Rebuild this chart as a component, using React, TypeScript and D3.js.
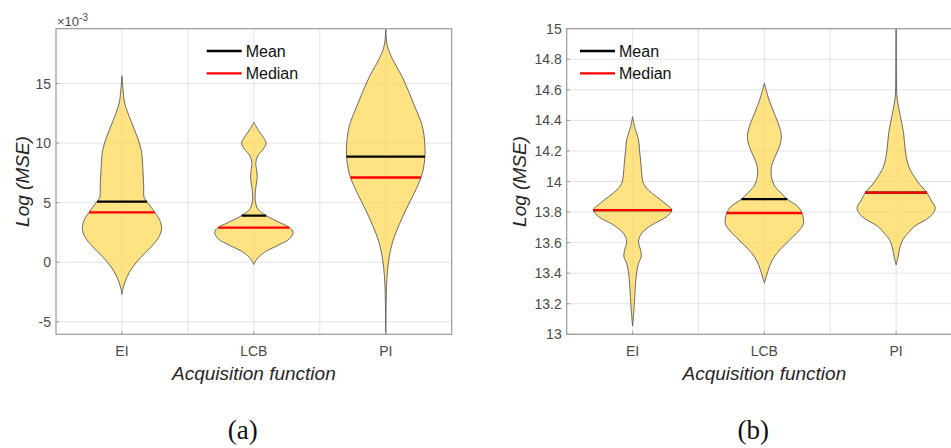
import React from "react";
import * as d3 from "d3";

const categories = ["EI", "LCB", "PI"];
const xTickValues = [1, 2, 3];
const xGridValues = [1, 1.5, 2, 2.5, 3];

const yTicksA = [-5, 0, 5, 10, 15];
const yTicksB = [13, 13.2, 13.4, 13.6, 13.8, 14, 14.2, 14.4, 14.6, 14.8, 15];

// density profiles: [value, relative half-width]
const densityA_EI: [number, number][] = [
  [15.65, 0], [14.39, 0.03], [13.28, 0.075], [11.88, 0.225], [10.48, 0.39], [9.36, 0.49],
  [7.69, 0.53], [6.29, 0.55], [5.45, 0.56], [5.09, 0.63], [4.61, 0.74], [4.19, 0.83],
  [3.5, 0.96], [2.8, 1.0], [2.1, 0.93], [1.26, 0.73], [0.42, 0.48], [-0.42, 0.27],
  [-1.26, 0.125], [-2.1, 0.035], [-2.7, 0],
];
const densityA_LCB: [number, number][] = [
  [11.74, 0], [11.04, 0.12], [10.48, 0.24], [10.0, 0.31], [9.5, 0.24], [8.94, 0.1],
  [8.38, 0.05], [7.7, 0.07], [7.12, 0.085], [6.5, 0.06], [6.01, 0.04], [5.17, 0.035],
  [4.47, 0.1], [3.91, 0.31], [3.35, 0.64], [2.91, 0.9], [2.51, 0.99], [1.96, 0.9],
  [1.4, 0.6], [0.84, 0.27], [0.28, 0.08], [-0.19, 0],
];
const densityA_PI: [number, number][] = [
  [19.6, 0], [18.16, 0.04], [17.05, 0.17], [15.65, 0.4], [14.25, 0.59], [12.86, 0.76],
  [11.46, 0.92], [10.06, 0.985], [8.86, 0.99], [7.83, 0.95], [7.1, 0.89], [5.87, 0.73],
  [4.47, 0.52], [3.08, 0.33], [1.68, 0.17], [0.28, 0.08], [-1.11, 0.035], [-2.51, 0.015],
  [-6.05, 0],
];

const densityB_EI: [number, number][] = [
  [14.424, 0], [14.359, 0.05], [14.272, 0.15], [14.206, 0.175], [14.119, 0.21],
  [14.054, 0.23], [13.988, 0.275], [13.944, 0.4], [13.9, 0.61], [13.857, 0.82],
  [13.813, 0.99], [13.77, 0.86], [13.715, 0.48], [13.661, 0.23], [13.606, 0.15],
  [13.552, 0.2], [13.508, 0.22], [13.465, 0.15], [13.4, 0.1], [13.312, 0.07],
  [13.18, 0.04], [13.054, 0],
];
const densityB_LCB: [number, number][] = [
  [14.643, 0], [14.533, 0.12], [14.446, 0.25], [14.359, 0.38], [14.293, 0.43],
  [14.228, 0.38], [14.162, 0.27], [14.097, 0.18], [14.031, 0.18], [13.966, 0.27],
  [13.923, 0.43], [13.884, 0.58], [13.835, 0.85], [13.794, 0.95], [13.726, 0.99],
  [13.683, 0.89], [13.617, 0.64], [13.552, 0.39], [13.486, 0.2], [13.421, 0.1],
  [13.334, 0],
];
const densityB_PI: [number, number][] = [
  [15.0, 0], [14.7, 0.008], [14.545, 0.025], [14.424, 0.11], [14.315, 0.19],
  [14.206, 0.23], [14.097, 0.32], [14.031, 0.46], [13.977, 0.61], [13.927, 0.78],
  [13.879, 0.88], [13.825, 0.99], [13.77, 0.86], [13.704, 0.45], [13.661, 0.3],
  [13.62, 0.17], [13.573, 0.1], [13.508, 0.05], [13.454, 0],
];

const meansA = [5.09, 3.91, 8.86];
const mediansA = [4.18, 2.91, 7.11];
const meansB = [13.8133, 13.884, 13.927];
const mediansB = [13.813, 13.794, 13.927];

const densitiesA = [densityA_EI, densityA_LCB, densityA_PI];
const densitiesB = [densityB_EI, densityB_LCB, densityB_PI];

const FONT = "'Liberation Sans', Arial, Helvetica, sans-serif";
const FILL = "rgb(255,214,76)";

function widthAt(dens: [number, number][], v: number) {
  const s = [...dens].sort((a, b) => a[0] - b[0]);
  for (let i = 0; i < s.length - 1; i++) {
    if (v >= s[i][0] && v <= s[i + 1][0]) {
      const t = (v - s[i][0]) / (s[i + 1][0] - s[i][0]);
      return s[i][1] + t * (s[i + 1][1] - s[i][1]);
    }
  }
  return 0;
}

type PanelProps = {
  id: string;
  left: number;
  right: number;
  top: number;
  bottom: number;
  yDomain: [number, number];
  yTicks: number[];
  tickFmt: (v: number) => string;
  densities: [number, number][][];
  means: number[];
  medians: number[];
  legendX: number;
  exponent: boolean;
  ylabelX: number;
  panelLabel: string;
};

function Panel(p: PanelProps) {
  const x = d3.scaleLinear().domain([0.5, 3.5]).range([p.left, p.right]);
  const y = d3.scaleLinear().domain(p.yDomain).range([p.bottom, p.top]);
  const maxHalf = 0.3; // in category units
  const unit = x(1) - x(0);
  const clipId = "clip-" + p.id;
  const tickColor = "#4a4a4a";
  const gridColor = "#e3e3e3";
  const axisColor = "#9a9a9a";
  const cx = (p.left + p.right) / 2;
  const cy = (p.top + p.bottom) / 2;

  return (
    <g>
      <defs>
        <clipPath id={clipId}>
          <rect x={p.left} y={p.top} width={p.right - p.left} height={p.bottom - p.top} />
        </clipPath>
      </defs>
      <rect x={p.left} y={p.top} width={p.right - p.left} height={p.bottom - p.top} fill="#fff" />
      <g>
        {xGridValues.map((v) => (
          <line key={"gx" + v} x1={x(v)} x2={x(v)} y1={p.top} y2={p.bottom} stroke={gridColor} strokeWidth={1} />
        ))}
        {p.yTicks.map((v) => (
          <line key={"gy" + v} x1={p.left} x2={p.right} y1={y(v)} y2={y(v)} stroke={gridColor} strokeWidth={1} />
        ))}
      </g>
      <g clipPath={`url(#${clipId})`}>
        {p.densities.map((dens, i) => {
          const c = i + 1;
          const area = d3
            .area<[number, number]>()
            .y((d) => y(d[0]))
            .x0((d) => x(c) - d[1] * maxHalf * unit)
            .x1((d) => x(c) + d[1] * maxHalf * unit)
            .curve(d3.curveCatmullRom.alpha(0.5));
          const wMean = widthAt(dens, p.means[i]) * maxHalf * unit;
          const wMed = widthAt(dens, p.medians[i]) * maxHalf * unit;
          return (
            <g key={"v" + i}>
              <path d={area(dens) || ""} fill={FILL} fillOpacity={0.7} stroke="#5a5a5a" strokeWidth={0.9} />
              <line x1={x(c) - wMean} x2={x(c) + wMean} y1={y(p.means[i])} y2={y(p.means[i])} stroke="#000" strokeWidth={2.3} />
              <line x1={x(c) - wMed} x2={x(c) + wMed} y1={y(p.medians[i])} y2={y(p.medians[i])} stroke="#ff0000" strokeWidth={2.3} />
            </g>
          );
        })}
      </g>
      <rect x={p.left} y={p.top} width={p.right - p.left} height={p.bottom - p.top} fill="none" stroke={axisColor} strokeWidth={1.2} />
      {p.yTicks.map((v) => (
        <g key={"ty" + v}>
          <line x1={p.left} x2={p.left + 3} y1={y(v)} y2={y(v)} stroke={axisColor} />
          <text x={p.left - 5} y={y(v)} dy="0.36em" textAnchor="end" fontFamily={FONT} fontSize={14} fill={tickColor}>
            {p.tickFmt(v)}
          </text>
        </g>
      ))}
      {xTickValues.map((v, i) => (
        <g key={"tx" + v}>
          <line x1={x(v)} x2={x(v)} y1={p.bottom} y2={p.bottom - 3} stroke={axisColor} />
          <text x={x(v)} y={p.bottom + 16.5} dy="0.36em" textAnchor="middle" fontFamily={FONT} fontSize={14} fill={tickColor}>
            {categories[i]}
          </text>
        </g>
      ))}
      {p.exponent && (
        <text x={p.left + 1} y={25.5} fontFamily={FONT} fontSize={13} fill={tickColor}>
          ×10<tspan dy={-5} fontSize={10}>-3</tspan>
        </text>
      )}
      <g>
        <line x1={p.legendX} x2={p.legendX + 35} y1={51} y2={51} stroke="#000" strokeWidth={2.3} />
        <text x={p.legendX + 39} y={51} dy="0.36em" fontFamily={FONT} fontSize={16} fill="#111">Mean</text>
        <line x1={p.legendX} x2={p.legendX + 35} y1={73.3} y2={73.3} stroke="#ff0000" strokeWidth={2.3} />
        <text x={p.legendX + 39} y={73.3} dy="0.36em" fontFamily={FONT} fontSize={16} fill="#111">Median</text>
      </g>
      <text x={cx} y={373.5} dy="0.35em" textAnchor="middle" fontFamily={FONT} fontStyle="italic" fontSize={19} fill="#262626">
        Acquisition function
      </text>
      <text
        transform={`translate(${p.ylabelX},${cy}) rotate(-90)`}
        dy="0.35em"
        textAnchor="middle"
        fontFamily={FONT}
        fontStyle="italic"
        fontSize={19}
        fill="#262626"
      >
        Log (MSE)
      </text>
      <text x={cx - 11} y={439} textAnchor="middle" fontFamily="'Liberation Serif', 'Times New Roman', serif" fontSize={27} fill="#111">
        {p.panelLabel}
      </text>
    </g>
  );
}

export default function App() {
  return (
    <div style={{ position: "absolute", left: 0, top: 0, width: 951, height: 448, overflow: "hidden", background: "#fff" }}>
      <svg width={951} height={448} viewBox="0 0 951 448" style={{ display: "block" }}>
        <rect width={951} height={448} fill="#fff" />
        <Panel
          id="a"
          left={56}
          right={451.7}
          top={28.7}
          bottom={334.3}
          yDomain={[-6.05, 19.6]}
          yTicks={yTicksA}
          tickFmt={(v) => String(v)}
          densities={densitiesA}
          means={meansA}
          medians={mediansA}
          legendX={206.7}
          exponent={true}
          ylabelX={22}
          panelLabel="(a)"
        />
        <Panel
          id="b"
          left={566.7}
          right={962}
          top={28.7}
          bottom={334.3}
          yDomain={[13, 15]}
          yTicks={yTicksB}
          tickFmt={(v) => d3.format("~g")(+v.toFixed(1))}
          densities={densitiesB}
          means={meansB}
          medians={mediansB}
          legendX={580}
          exponent={false}
          ylabelX={519}
          panelLabel="(b)"
        />
      </svg>
    </div>
  );
}
